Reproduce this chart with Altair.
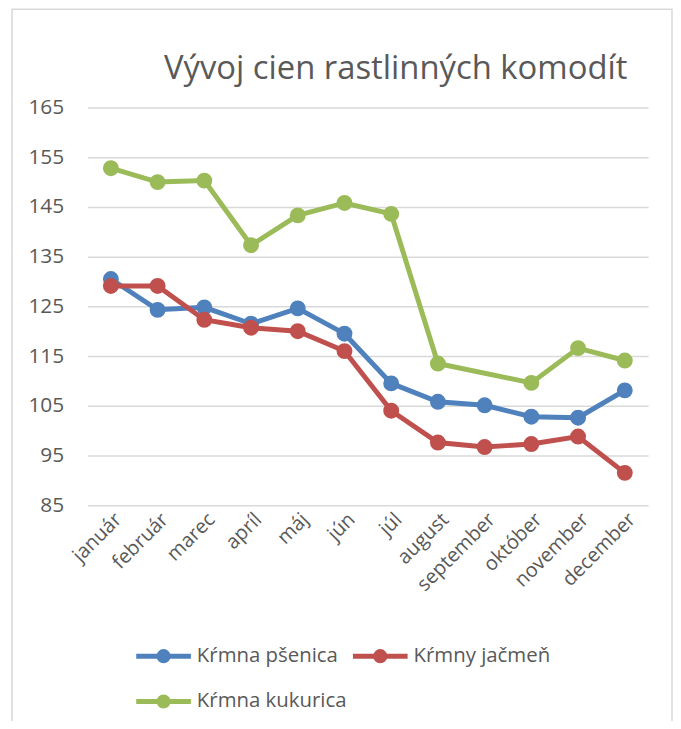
import altair as alt
import pandas as pd

months = ["január", "február", "marec", "apríl", "máj", "jún", "júl",
          "august", "september", "október", "november", "december"]
psenica = [130.5, 124.3, 124.8, 121.5, 124.6, 119.5, 109.5, 105.8, 105.1, 102.8, 102.6, 108.1]
jacmen = [129.1, 129.1, 122.3, 120.7, 120.0, 116.0, 104.0, 97.6, 96.7, 97.3, 98.8, 91.5]
kukurica = [152.8, 150.0, 150.3, 137.3, 143.3, 145.8, 143.6, 113.5, None, 109.6, 116.6, 114.1]

series_names = ["Kŕmna pšenica", "Kŕmny jačmeň", "Kŕmna kukurica"]
series_colors = ["#4F81BD", "#C0504D", "#9BBB59"]
y_ticks = [85, 95, 105, 115, 125, 135, 145, 155, 165]

rows = []
for name, vals in zip(series_names, [psenica, jacmen, kukurica]):
    for m, v in zip(months, vals):
        if v is not None:
            rows.append({"mesiac": m, "hodnota": v, "rad": name})
df = pd.DataFrame(rows)

FONT = "Open Sans"
TXT = "#595959"
GRID = "#D9D9D9"

x_enc = alt.X("mesiac:N", sort=months, title=None,
              scale=alt.Scale(padding=0.5),
              axis=alt.Axis(labelAngle=-45, labelAlign="right", labelBaseline="top",
                            labelFontSize=20, labelColor=TXT, labelFont=FONT,
                            labelPadding=4, ticks=False, domain=False, grid=False))
y_enc = alt.Y("hodnota:Q", title=None,
              scale=alt.Scale(domain=[85, 165], nice=False, zero=False),
              axis=alt.Axis(values=y_ticks, labelFontSize=21, labelColor=TXT, labelFont=FONT,
                            labelPadding=24, ticks=False, domain=False,
                            grid=True, gridColor=GRID, gridWidth=1.5))

color_scale = alt.Scale(domain=series_names, range=series_colors)

r = 0.42
legend_path = (f"M-2.5,0L2.5,0M{r},0A{r},{r},0,1,1,-{r},0A{r},{r},0,1,1,{r},0Z")
leg = alt.Legend(title=None, orient="none", legendX=63, legendY=538, columns=2,
                 direction="horizontal",
                 symbolType=legend_path, symbolSize=484, symbolStrokeWidth=5,
                 labelFont=FONT, labelFontSize=20.5, labelColor=TXT, labelOffset=20,
                 columnPadding=-4, rowPadding=15, labelLimit=300)

lines = alt.Chart(df).mark_line(strokeWidth=5).encode(
    x=x_enc, y=y_enc,
    stroke=alt.Stroke("rad:N", scale=color_scale, sort=series_names, legend=leg),
)

points = alt.Chart(df).mark_point(filled=True, size=196, opacity=1).encode(
    x=x_enc, y=y_enc,
    fill=alt.Fill("rad:N", scale=color_scale, sort=series_names, legend=leg),
    stroke=alt.Stroke("rad:N", scale=color_scale, sort=series_names, legend=leg),
)

border = alt.Chart(pd.DataFrame({"a": [0]})).mark_rect(
    fill=None, stroke=GRID, strokeWidth=1.5
).encode(x=alt.value(-76), x2=alt.value(588), y=alt.value(-99), y2=alt.value(900))

chart = alt.layer(border, lines, points).properties(
    width=564, height=400,
    title=alt.TitleParams("Vývoj cien rastlinných komodít", font=FONT, fontSize=33,
                          fontWeight="normal", color=TXT, anchor="middle", dx=28,
                          offset=0, dy=78),
    autosize=alt.AutoSizeParams(type="none"),
    padding={"left": 80, "top": 98, "right": 25, "bottom": 215},
).configure(background="white").configure_view(stroke=None)

chart.save("out.html", embed_options={"renderer": "svg", "actions": False})
